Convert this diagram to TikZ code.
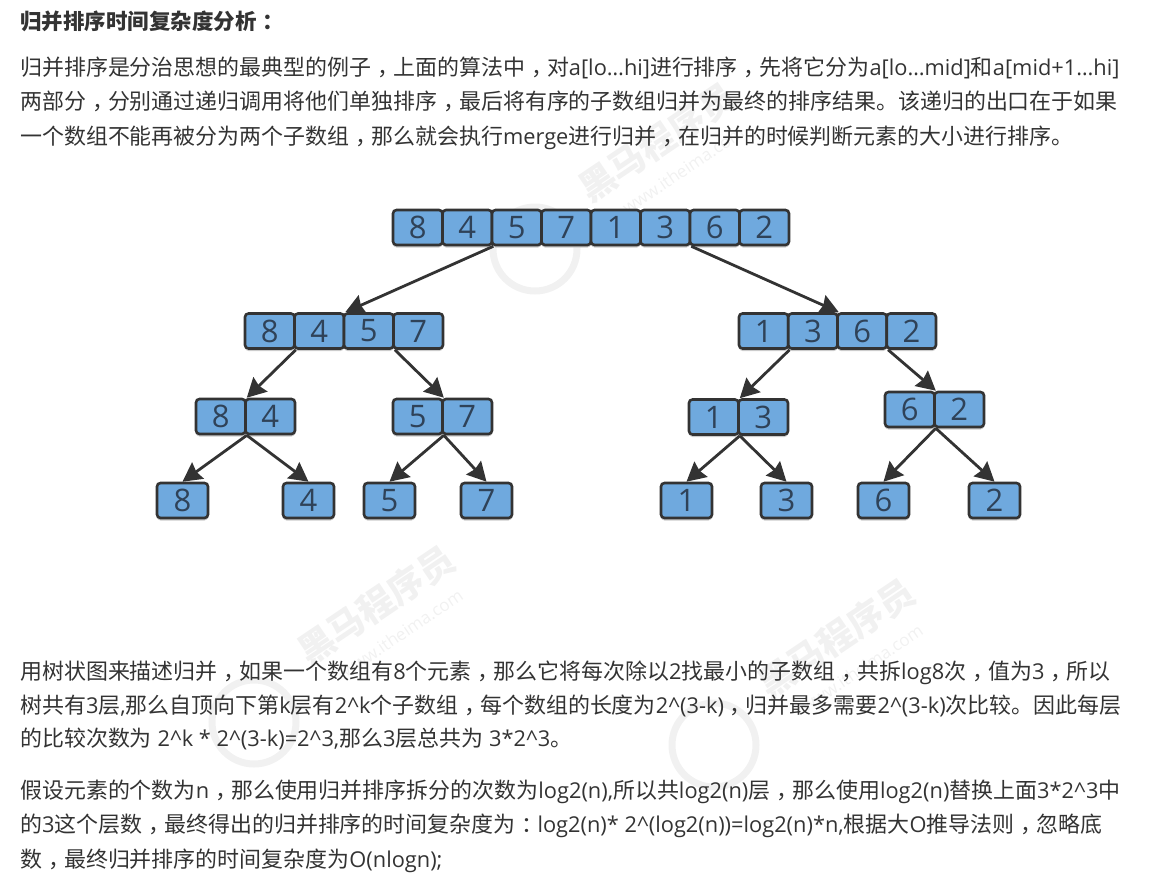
\documentclass[tikz,border=0pt]{standalone}
\usepackage{fontspec}
\usepackage{xcolor}
\setmainfont{Open Sans}
\newfontfamily\cjk{Noto Sans CJK SC}
\usetikzlibrary{arrows.meta,positioning,shadows}
\definecolor{inkgray}{HTML}{333333}
\definecolor{cellblue}{HTML}{6FA9DE}
\definecolor{digitblue}{HTML}{2F4258}
\definecolor{markgray}{HTML}{F1F1F1}
\tikzset{
  cell/.style={draw=inkgray, line width=2.6pt, rounded corners=3.5pt, fill=cellblue, minimum height=35pt, inner sep=0pt, text=digitblue, font=\fontsize{31}{31}\selectfont, general shadow={shadow xshift=0pt, shadow yshift=-2.5pt, fill=black!20}},
  link/.style={-{Stealth[length=19pt,width=20pt,inset=2pt]}, line width=2.8pt, draw=inkgray},
  textline/.style={anchor=base west, inner sep=0pt, text=inkgray, font=\fontsize{21.95}{22}\cjk},
  wmark/.style={text=markgray, inner sep=0pt, rotate=34},
  wlogo/.style={circle, draw=markgray, line width=7pt, minimum size=84pt}
}
% latin runs in the text, and the centred full-width comma
\newcommand{\lat}[1]{{\fontsize{21.8}{22}\rmfamily #1}}
\newcommand{\cm}{\kern6pt，\kern-6pt}
% one row of cells: name, left edge, centre y, cell width, digits
\newcommand{\cellrow}[5]{%
  \foreach \val [count=\i] in {#5} {
    \node[cell, minimum width=#4pt] (#1-\i) at ({#2+(\i-0.5)*#4},#3) {\val};
  }
}
\begin{document}
\begin{tikzpicture}[x=1pt, y=-1pt]
  \useasboundingbox (0,0) rectangle (1164,873);

  % Watermarks
  \node[wmark, font=\fontsize{36}{36}\cjk\bfseries] (mark1) at (657,142) {黑马程序员};
  \node[wmark, font=\fontsize{36}{36}\cjk\bfseries] (mark2) at (376,605) {黑马程序员};
  \node[wmark, font=\fontsize{36}{36}\cjk\bfseries] (mark3) at (836,638) {黑马程序员};
  \node[wmark, font=\fontsize{17}{17}\selectfont] (site1) at (683,170) {www.itheima.com};
  \node[wmark, font=\fontsize{17}{17}\selectfont] (site2) at (402,633) {www.itheima.com};
  \node[wmark, font=\fontsize{17}{17}\selectfont] (site3) at (862,668) {www.itheima.com};
  \node[wlogo] (logo1) at (535,249) {};
  \node[wlogo] (logo2) at (254,722) {};
  \node[wlogo] (logo3) at (714,745) {};

  % Text above the tree
  \node[textline, font=\fontsize{21.5}{21.5}\cjk\bfseries] (title) at (20,29) {归并排序时间复杂度分析\kern6pt：};
  \node[textline] (par1a) at (20,75) {归并排序是分治思想的最典型的例子\cm 上面的算法中\cm 对\lat{a[lo…hi]}进行排序\cm 先将它分为\lat{a[lo…mid]}和\lat{a[mid+1…hi]}};
  \node[textline] (par1b) at (20,109) {两部分\cm 分别通过递归调用将他们单独排序\cm 最后将有序的子数组归并为最终的排序结果。该递归的出口在于如果};
  \node[textline] (par1c) at (20,144) {一个数组不能再被分为两个子数组\cm 那么就会执行\lat{merge}进行归并\cm 在归并的时候判断元素的大小进行排序。};

  % Tree
  \cellrow{top}{393}{227.5}{49.5}{8,4,5,7,1,3,6,2}
  \cellrow{lefta}{245}{331}{49.5}{8,4,5,7}
  \cellrow{righta}{739}{331}{49.25}{1,3,6,2}
  \cellrow{lla}{196}{416.5}{49.5}{8,4}
  \cellrow{lra}{393}{416.5}{49.5}{5,7}
  \cellrow{rla}{689}{417}{49.5}{1,3}
  \cellrow{rra}{885}{409.5}{49.5}{6,2}
  \cellrow{leafa}{157}{500.5}{51}{8}
  \cellrow{leafb}{283}{500.5}{51}{4}
  \cellrow{leafc}{364}{500.5}{51}{5}
  \cellrow{leafd}{461}{500.5}{51}{7}
  \cellrow{leafe}{661}{500.5}{51}{1}
  \cellrow{leaff}{761}{500.5}{51}{3}
  \cellrow{leafg}{858}{500.5}{51}{6}
  \cellrow{leafh}{969}{500.5}{51}{2}

  \draw[link] (top-2.south east) -- (lefta-2.north east);
  \draw[link] (top-6.south east) -- (righta-2.north east);
  \draw[link] (lefta-1.south east) -- (lla-1.north east);
  \draw[link] (lefta-3.south east) -- (lra-1.north east);
  \draw[link] (righta-1.south east) -- (rla-1.north east);
  \draw[link] (righta-3.south east) -- (rra-1.north east);
  \draw[link] (lla-1.south east) -- (leafa-1.north);
  \draw[link] (lla-1.south east) -- (leafb-1.north);
  \draw[link] (lra-1.south east) -- (leafc-1.north);
  \draw[link] (lra-1.south east) -- (leafd-1.north);
  \draw[link] (rla-1.south east) -- (leafe-1.north);
  \draw[link] (rla-1.south east) -- (leaff-1.north);
  \draw[link] (rra-1.south east) -- (leafg-1.north);
  \draw[link] (rra-1.south east) -- (leafh-1.north);

  % Text below the tree
  \node[textline] (par2a) at (20,679) {用树状图来描述归并\cm 如果一个数组有\lat{8}个元素\cm 那么它将每次除以\lat{2}找最小的子数组\cm 共拆\lat{log8}次\cm 值为\lat{3}\cm 所以};
  \node[textline] (par2b) at (20,713) {树共有\lat{3}层\lat{,}那么自顶向下第\lat{k}层有\lat{2\^{}k}个子数组\cm 每个数组的长度为\lat{2\^{}(3-k)}\cm 归并最多需要\lat{2\^{}(3-k)}次比较。因此每层};
  \node[textline] (par2c) at (20,746) {的比较次数为\lat{ 2\^{}k * 2\^{}(3-k)=2\^{}3,}那么\lat{3}层总共为\lat{ 3*2\^{}3}。};
  \node[textline] (par3a) at (20,798) {假设元素的个数为\lat{n}\cm 那么使用归并排序拆分的次数为\lat{log2(n),}所以共\lat{log2(n)}层\cm 那么使用\lat{log2(n)}替换上面\lat{3*2\^{}3}中};
  \node[textline] (par3b) at (20,832) {的\lat{3}这个层数\cm 最终得出的归并排序的时间复杂度为\kern6pt：\kern-6pt\lat{log2(n)* 2\^{}(log2(n))=log2(n)*n,}根据大\lat{O}推导法则\cm 忽略底};
  \node[textline] (par3c) at (20,867) {数\cm 最终归并排序的时间复杂度为\lat{O(nlogn);}};
\end{tikzpicture}
\end{document}
